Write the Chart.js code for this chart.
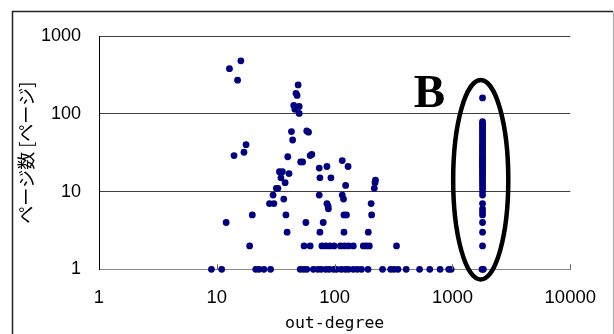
<!DOCTYPE html>
<html>
<head>
<meta charset="utf-8">
<script src="https://cdn.jsdelivr.net/npm/chart.js@4.4.0/dist/chart.umd.min.js"></script>
<style>
html, body { margin: 0; padding: 0; background: #fff; }
canvas { display: block; }
</style>
</head>
<body>
<canvas id="plot" width="614" height="334"></canvas>
<script>
'use strict';

// scattered dots: [out-degree, pages]
var loosePoints = [
  [12.8, 380], [16, 480], [15, 270], [14, 29], [17, 32], [17.7, 40],
  [49, 235], [47, 183], [48, 172], [45, 128], [50, 124], [46, 114], [50, 101],
  [43, 59], [58, 60], [60, 58], [44, 46],
  [40, 28], [51.5, 24], [53.5, 24], [62, 29], [64, 30],
  [74, 20], [86, 21], [116, 25], [130, 21],
  [34, 18], [36, 18], [41, 17], [35, 15], [75, 15], [93, 15], [124, 12],
  [222, 14], [220, 13], [217, 11],
  [38, 13], [32, 11], [33, 11],
  [30, 9], [28, 7], [30.5, 7], [37, 8], [74, 9], [86, 7], [88, 6.5], [88.5, 6],
  [116, 9], [119, 8], [204, 7]
];

// dots sitting on whole page counts (x values only)
var rowFive = [20, 38.6, 120, 126, 206];
var rowFour = [12, 57, 80];
var rowThree = [39.5, 75, 120, 193];
var rowTwo = [19, 55, 62, 78, 84, 91, 99, 112, 121, 131, 144, 175, 186, 197, 335];
var rowOne = [9, 11, 21.4, 22.8, 25.1, 28.6, 51, 54.6, 58, 66, 72, 77, 84, 90, 98, 104,
  114, 123, 131, 144, 156, 169, 192, 255, 299, 319, 345, 405, 526, 642, 785, 930, 975,
  1780, 1830];

// group B: the column near out-degree 1800 (page values)
var groupBDegree = 1800;
var groupBPages = [160, 79, 75, 71, 67, 63, 59, 55, 52, 49, 46, 43, 40, 38, 36, 34, 32, 30,
  28, 27, 26, 25, 24, 23, 22, 21, 20, 19, 18, 17, 16, 15, 14, 13, 12, 11, 10, 9,
  7, 6, 5.5, 5, 4, 3, 2];

var xTickValues = [1, 10, 100, 1000, 10000];
var yTickValues = [1, 10, 100, 1000];

var points = [];
loosePoints.forEach(function (p) { points.push({x: p[0], y: p[1]}); });
rowFive.forEach(function (v) { points.push({x: v, y: 5}); });
rowFour.forEach(function (v) { points.push({x: v, y: 4}); });
rowThree.forEach(function (v) { points.push({x: v, y: 3}); });
rowTwo.forEach(function (v) { points.push({x: v, y: 2}); });
rowOne.forEach(function (v) { points.push({x: v, y: 1}); });
groupBPages.forEach(function (v) { points.push({x: groupBDegree, y: v}); });

// frame, inner tick marks, the ring round group B and its letter
var decor = {
  id: 'decor',
  beforeDraw: function (chart) {
    var ctx = chart.ctx;
    ctx.save();
    ctx.strokeStyle = '#222';
    ctx.lineWidth = 1.5;
    ctx.beginPath();
    ctx.moveTo(12.5, 334);
    ctx.lineTo(12.5, 11.5);
    ctx.lineTo(613, 11.5);
    ctx.stroke();
    ctx.strokeStyle = '#aaa';
    ctx.lineWidth = 1;
    ctx.beginPath();
    ctx.moveTo(613.5, 11.5);
    ctx.lineTo(613.5, 334);
    ctx.stroke();
    ctx.restore();
  },
  afterDatasetsDraw: function (chart) {
    var ctx = chart.ctx;
    var x = chart.scales.x, y = chart.scales.y;
    var bottom = chart.chartArea.bottom;
    ctx.save();
    ctx.strokeStyle = '#666';
    ctx.lineWidth = 1;
    xTickValues.slice(1).forEach(function (v) {
      var px = Math.round(x.getPixelForValue(v)) + 0.5;
      ctx.beginPath();
      ctx.moveTo(px, bottom);
      ctx.lineTo(px, bottom - 5);
      ctx.stroke();
    });

    var left = x.getPixelForValue(1014), right = x.getPixelForValue(2978);
    var top = y.getPixelForValue(271), low = y.getPixelForValue(0.74);
    ctx.strokeStyle = '#000';
    ctx.lineWidth = 4.5;
    ctx.beginPath();
    ctx.ellipse((left + right) / 2, (top + low) / 2, (right - left) / 2, (low - top) / 2, 0, 0, Math.PI * 2);
    ctx.stroke();

    ctx.fillStyle = '#000';
    ctx.font = 'bold 47px "Liberation Serif", "Times New Roman", serif';
    ctx.textAlign = 'center';
    ctx.textBaseline = 'alphabetic';
    ctx.fillText('B', x.getPixelForValue(636), y.getPixelForValue(122));
    ctx.restore();
  }
};

var chart = new Chart(document.getElementById('plot'), {
  type: 'scatter',
  data: {
    datasets: [{
      data: points,
      backgroundColor: '#000080',
      borderWidth: 0,
      pointRadius: 3.4,
      pointHoverRadius: 3.4,
      clip: false
    }]
  },
  options: {
    responsive: false,
    animation: false,
    devicePixelRatio: 1,
    layout: { padding: { top: 36, right: 40.7, bottom: 0, left: 0 } },
    plugins: { legend: { display: false }, tooltip: { enabled: false } },
    scales: {
      x: {
        type: 'logarithmic',
        min: 1,
        max: 10000,
        afterBuildTicks: function (s) { s.ticks = xTickValues.map(function (v) { return {value: v}; }); },
        afterFit: function (s) { s.height = 64.7; },
        grid: { drawOnChartArea: false, drawTicks: false },
        border: { color: '#888', width: 1 },
        ticks: {
          padding: 18,
          color: '#000',
          maxRotation: 0,
          autoSkip: false,
          font: { family: '"Liberation Sans", Arial, sans-serif', size: 18.5 },
          callback: function (v) { return String(v); }
        },
        title: {
          display: true,
          text: 'out-degree',
          color: '#000',
          font: { family: '"DejaVu Sans Mono", monospace', size: 16.5, lineHeight: 1.2 },
          padding: { top: 0, bottom: 0 }
        }
      },
      y: {
        type: 'logarithmic',
        min: 1,
        max: 1000,
        afterBuildTicks: function (s) { s.ticks = yTickValues.map(function (v) { return {value: v}; }); },
        afterFit: function (s) { s.width = 99; },
        grid: {
          drawTicks: false,
          color: function (c) { return c.tick && c.tick.value === 1 ? 'rgba(0,0,0,0)' : '#404040'; }
        },
        border: { color: '#000', width: 1 },
        ticks: {
          padding: 18,
          color: '#000',
          font: { family: '"Liberation Sans", Arial, sans-serif', size: 18 },
          callback: function (v) { return String(v); }
        },
        title: {
          display: true,
          text: 'ページ数 [ページ]',
          color: '#000',
          font: { family: '"Noto Sans CJK JP", sans-serif', size: 18, lineHeight: 1.2 },
          padding: { top: 15.5, bottom: 0 }
        }
      }
    }
  },
  plugins: [decor]
});
</script>
</body>
</html>
